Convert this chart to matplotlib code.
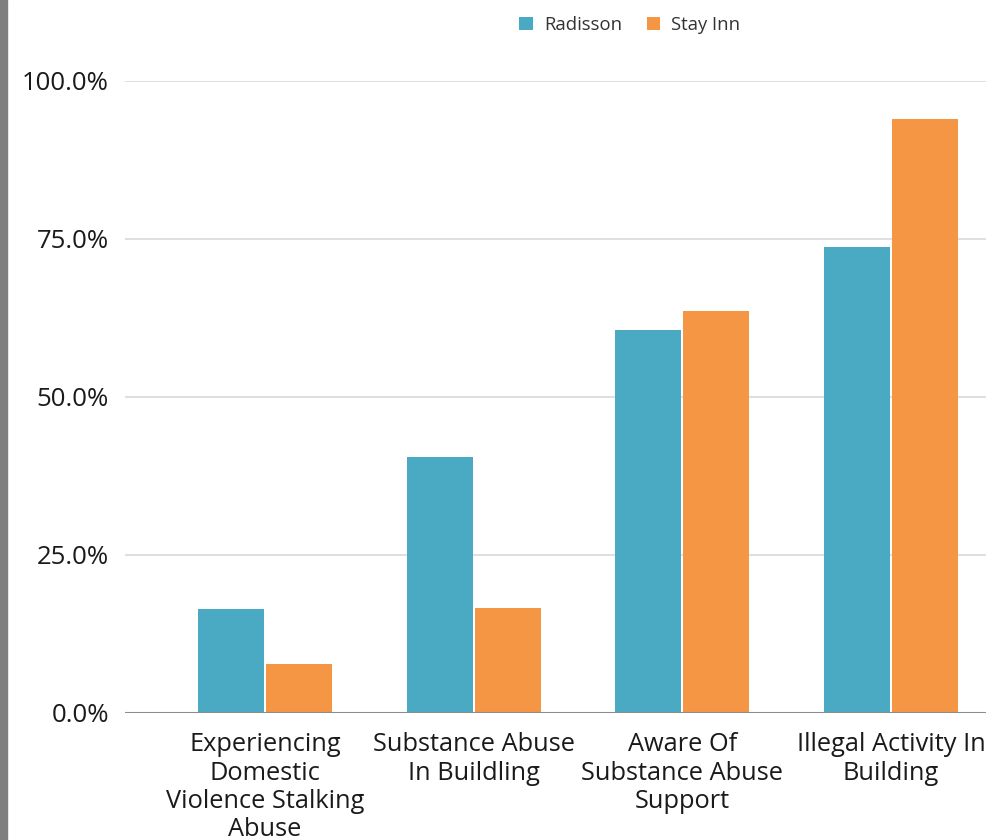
"""Grouped bar chart: Radisson vs Stay Inn survey responses."""

import numpy as np
import matplotlib
matplotlib.use("Agg")
import matplotlib.pyplot as plt
from matplotlib.ticker import FuncFormatter

categories = [
    "Experiencing\nDomestic\nViolence Stalking\nAbuse",
    "Substance Abuse\nIn Buildling",
    "Aware Of\nSubstance Abuse\nSupport",
    "Illegal Activity In\nBuilding",
]
radisson = [16.5, 40.5, 60.6, 73.7]
stay_inn = [7.7, 16.6, 63.6, 94.0]

plt.rcParams["font.family"] = ["Open Sans", "DejaVu Sans"]

W, H = 987, 840
fig = plt.figure(figsize=(W / 100, H / 100), dpi=100)
ax = fig.add_axes([125 / W, 1 - 713 / H, (987 - 125) / W, (713 - 81) / H])

# grey strip on the left edge
fig.patches.append(plt.Rectangle((0, 0), 7 / W, 1, transform=fig.transFigure,
                                 color="#7f7f7f", zorder=10))

x = np.arange(len(categories))
bw = 0.316
off = 0.163
ax.bar(x - off, radisson, bw, color="#4aa9c3", label="Radisson", zorder=3)
ax.bar(x + off, stay_inn, bw, color="#f59645", label="Stay Inn", zorder=3)

ax.set_ylim(0, 100)
ax.set_xlim(-0.67, 3.46)
ax.set_yticks([0, 25, 50, 75, 100])
ax.yaxis.set_major_formatter(FuncFormatter(lambda v, _: f"{v:.1f}%"))
ax.grid(axis="y", color="#d9d9d9", linewidth=1.2, zorder=0)
ax.axhline(0, color="#8c8c8c", linewidth=1.5, zorder=4)
for s in ax.spines.values():
    s.set_visible(False)
ax.tick_params(axis="both", length=0, labelsize=18.5, colors="#1a1a1a")
ax.tick_params(axis="y", pad=11.5)
ax.tick_params(axis="x", pad=14)
ax.set_xticks(x)
ax.set_xticklabels(categories, fontsize=18.3, linespacing=1.17)

fig.legend(loc="center", bbox_to_anchor=(630 / W, 1 - 25 / H), ncol=2,
           frameon=False, fontsize=13.3, handlelength=0.75, handleheight=0.75,
           columnspacing=1.3, handletextpad=0.6, labelcolor="#333333")

fig.savefig("out.png", dpi=100)
